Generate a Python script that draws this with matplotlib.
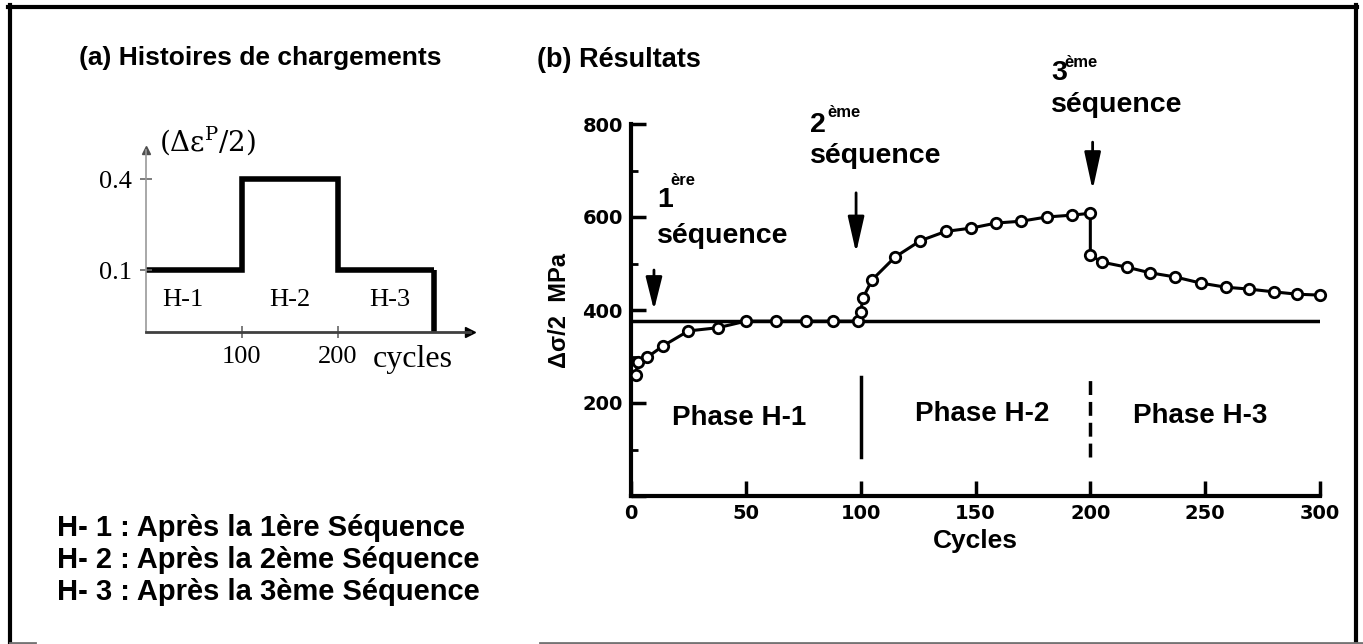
import matplotlib.pyplot as plt
import numpy as np
from matplotlib.lines import Line2D

W, H = 1363, 644

# (a) histoire de chargement (esquisse)
seq_edges = [0, 100, 200, 300]
seq_amp = [0.1, 0.4, 0.1]
seq_names = ['H-1', 'H-2', 'H-3']
seq_name_x = [38, 150, 254]

# (b) résultats : amplitude de contrainte vs cycles
cycles = [2, 3, 7, 14, 25, 38, 50, 63, 76, 88, 99, 100, 101, 105, 115, 126, 137,
          148, 159, 170, 181, 192, 200, 200, 205, 216, 226, 237, 248, 259, 269,
          280, 290, 300]
stress = [260, 288, 298, 323, 355, 362, 376, 376, 376, 376, 376, 396, 426, 465,
          514, 549, 569, 576, 587, 591, 600, 604, 608, 518, 503, 492, 480, 471,
          458, 449, 445, 439, 434, 432]
plateau = 376
phase_labels = ['Phase H-1', 'Phase H-2', 'Phase H-3']
phase_x = [47, 153, 248]
phase_y = [168, 176, 172]

legend_lines = ['H- 1 : Après la 1ère Séquence',
                'H- 2 : Après la 2ème Séquence',
                'H- 3 : Après la 3ème Séquence']


def fx(px):
    return px / W


def fy(py):
    return 1 - py / H


plt.rcParams['font.family'] = ['Liberation Sans', 'DejaVu Sans']
fig = plt.figure(figsize=(W / 100, H / 100), dpi=100)

# cadre extérieur
for xs, ys, c, lw in [([8, 1357], [6.5, 6.5], 'k', 3),
                      ([10, 10], [5, 644], 'k', 3),
                      ([1356, 1356], [5, 644], 'k', 3),
                      ([10, 35], [642.5, 642.5], '0.45', 2),
                      ([540, 1363], [642.5, 642.5], '0.45', 2)]:
    fig.add_artist(Line2D([fx(x) for x in xs], [fy(y) for y in ys],
                          color=c, lw=lw))

fig.text(fx(79), fy(58), '(a) Histoires de chargements', fontsize=19,
         fontweight='bold', va='center', ha='left')
fig.text(fx(537), fy(60), '(b) Résultats', fontsize=19.5,
         fontweight='bold', va='center', ha='left')

for i, line in enumerate(legend_lines):
    fig.text(fx(57), fy(528 + 32 * i), line, fontsize=21, fontweight='bold',
             va='center', ha='left')

# ---------- panneau (a) ----------
ax_a = fig.add_axes([fx(146), fy(332), (470 - 146) / W, (332 - 150) / H])
ax_a.set_xlim(0, 338)
ax_a.set_ylim(-0.104, 0.496)
ax_a.stairs(seq_amp, seq_edges, baseline=None, color='k', lw=4)
ax_a.plot([seq_edges[-1]] * 2, [-0.104, seq_amp[-1]], color='k', lw=4,
          solid_capstyle='butt')
for s in ['top', 'right']:
    ax_a.spines[s].set_visible(False)
ax_a.spines['left'].set_color('0.6')
ax_a.spines['left'].set_linewidth(1.2)
ax_a.spines['bottom'].set_color('0.25')
ax_a.spines['bottom'].set_linewidth(2)
ax_a.plot(0, 1, marker='^', color='0.3', ms=6, transform=ax_a.transAxes,
          clip_on=False)
ax_a.plot(1, 0, marker='>', color='k', ms=7, transform=ax_a.transAxes,
          clip_on=False)
serif = 'Liberation Serif'
ax_a.set_yticks([0.1, 0.4], ['0.1', '0.4'])
ax_a.set_xticks([100, 200], ['100', '200'])
ax_a.tick_params(axis='both', direction='inout', length=8, width=1.2,
                 color='0.4', labelsize=19, pad=6)
for lab in ax_a.get_xticklabels() + ax_a.get_yticklabels():
    lab.set_family(serif)
ax_a.text(237, -0.195, 'cycles', fontsize=23, family=serif, ha='left',
          va='center')
ax_a.text(0.04, 1.05, r'$(\Delta\mathrm{ε}^{\mathrm{P}}/2)$',
          transform=ax_a.transAxes, fontsize=20, ha='left', va='center',
          math_fontfamily='dejavuserif')
for name, x in zip(seq_names, seq_name_x):
    ax_a.text(x, 0.0, name, fontsize=19, family=serif, ha='center',
              va='center')

# ---------- panneau (b) ----------
ax_b = fig.add_axes([fx(631), fy(496), (1320 - 631) / W, (496 - 124) / H])
ax_b.set_xlim(0, 300)
ax_b.set_ylim(0, 800)
for s in ['top', 'right']:
    ax_b.spines[s].set_visible(False)
for s in ['left', 'bottom']:
    ax_b.spines[s].set_linewidth(3)
ax_b.axhline(plateau, color='k', lw=2.5)
ax_b.plot(cycles, stress, color='k', lw=2.2, marker='o', ms=7.5,
          mfc='white', mec='k', mew=2, clip_on=False, zorder=3)

ax_b.set_xticks(np.arange(0, 301, 50))
ax_b.set_yticks(np.arange(0, 801, 200), ['', '200', '400', '600', '800'])
ax_b.set_yticks(np.arange(100, 800, 200), minor=True)
ax_b.tick_params(axis='both', which='major', direction='in', length=11,
                 width=2.5, labelsize=14, pad=6)
ax_b.tick_params(axis='y', which='minor', direction='in', length=5, width=2)
for lab in ax_b.get_xticklabels() + ax_b.get_yticklabels():
    lab.set_fontweight('bold')
    lab.set_family('DejaVu Sans')
ax_b.set_xlabel('Cycles', fontsize=19, fontweight='bold', labelpad=4)
ax_b.set_ylabel('Δσ/2  MPa', fontsize=17, fontweight='bold', labelpad=8)

# séparations des phases
ax_b.plot([100, 100], [84, 256], color='k', lw=2.5)
ax_b.plot([200, 200], [84, 250], color='k', lw=2.5, ls=(0, (4, 2)))
for lab, x, y in zip(phase_labels, phase_x, phase_y):
    ax_b.text(x, y, lab, fontsize=20, fontweight='bold', ha='center',
              va='center')

# flèches et annotations des séquences
arrows = [(10, 486, 400, 2.0), (98, 652, 523, 2.2), (201, 761, 658, 2.3)]
for x, y0, y1, hl in arrows:
    ax_b.annotate('', xy=(x, y1), xytext=(x, y0),
                  arrowprops=dict(arrowstyle=f'-|>,head_length={hl},head_width=0.5',
                                  color='k', lw=2, shrinkA=0, shrinkB=0))

seq_texts = [('1', 'ère', 11.5, 621, 17, 669, 544),
             ('2', 'ème', 78, 783, 85.5, 815, 716),
             ('3', 'ème', 183, 895, 188.5, 923, 826)]
for num, sup, xn, yn, xs, ys, yq in seq_texts:
    ax_b.text(xn, yn, num, fontsize=20.5, fontweight='bold', ha='left',
              va='baseline')
    ax_b.text(xs, ys, sup, fontsize=12, fontweight='bold', ha='left',
              va='baseline')
    ax_b.text(xn, yq, 'séquence', fontsize=20.5, fontweight='bold', ha='left',
              va='baseline')

fig.savefig('out.png', dpi=100)
